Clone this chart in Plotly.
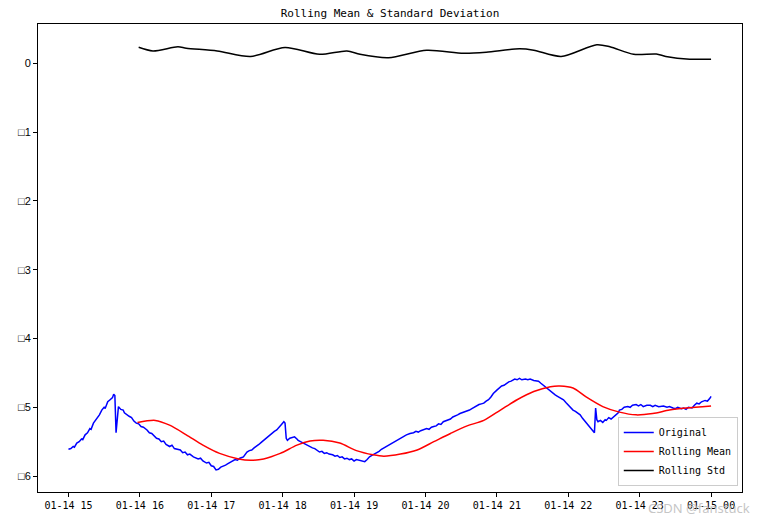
import pandas as pd
import plotly.graph_objects as go

START = "2019-01-14 15:00"

# Original series: minutes after 15:00, value
orig_min = [0, 2, 4, 5, 7, 9, 11, 12, 14, 16, 18, 19, 21, 23, 25, 26, 28, 30, 31, 33, 35, 37, 38, 39,
            40, 41, 42, 44, 46, 47, 49, 51, 53, 55, 57, 59, 61, 63, 66, 68, 70, 72, 74, 76, 78, 80,
            82, 85, 87, 89, 91, 94, 96, 98, 100, 102, 105, 107, 109, 111, 113, 116, 118, 120, 122,
            124, 126, 128, 130, 132, 134, 136, 138, 140, 142, 144, 147, 148, 150, 152, 154, 156,
            158, 160, 162, 164, 166, 169, 171, 173, 175, 178, 179, 181, 182, 183, 184, 186, 188,
            190, 192, 193, 195, 197, 199, 201, 203, 205, 207, 209, 211, 213, 215, 217, 219, 222,
            224, 226, 228, 230, 232, 234, 236, 238, 240, 242, 245, 247, 249, 251, 253, 255, 257,
            259, 261, 263, 265, 267, 269, 271, 273, 276, 278, 280, 282, 284, 287, 290, 292, 294,
            296, 298, 301, 303, 305, 307, 309, 311, 313, 315, 317, 319, 321, 323, 325, 327, 329,
            331, 333, 335, 337, 339, 341, 343, 345, 347, 349, 351, 353, 355, 357, 360, 362, 364,
            366, 368, 370, 372, 375, 377, 379, 381, 384, 386, 388, 391, 393, 395, 397, 399, 401,
            403, 405, 407, 409, 411, 413, 416, 418, 420, 422, 424, 426, 428, 430, 432, 434, 435,
            437, 439, 441, 442, 443, 444, 445, 447, 449, 451, 452, 454, 456, 458, 460, 462, 463,
            465, 467, 470, 472, 474, 477, 479, 481, 483, 486, 489, 491, 493, 496, 498, 500, 503,
            505, 508, 510, 512, 515, 517, 519, 521, 524, 526, 528, 530, 532, 535, 537, 539, 540]
orig_val = [-5.61, -5.60, -5.57, -5.58, -5.52, -5.50, -5.46, -5.47, -5.40, -5.37, -5.31, -5.32, -5.23,
            -5.18, -5.13, -5.11, -5.04, -5.00, -5.01, -4.92, -4.89, -4.86, -4.81, -4.83,
            -5.37, -5.10, -4.99, -5.03, -5.04, -5.08, -5.11, -5.13, -5.15, -5.20, -5.23, -5.24,
            -5.28, -5.29, -5.33, -5.37, -5.38, -5.42, -5.45, -5.46, -5.50, -5.49,
            -5.54, -5.57, -5.55, -5.60, -5.61, -5.62, -5.66, -5.65, -5.69, -5.68, -5.72, -5.73,
            -5.75, -5.74, -5.78, -5.81, -5.80, -5.85, -5.86,
            -5.91, -5.90, -5.87, -5.86, -5.84, -5.82, -5.80, -5.79, -5.76, -5.77, -5.74, -5.72,
            -5.70, -5.65, -5.63, -5.62, -5.59,
            -5.57, -5.54, -5.51, -5.48, -5.45, -5.40, -5.38, -5.35, -5.33, -5.28, -5.25, -5.21,
            -5.23, -5.45, -5.48, -5.45, -5.44,
            -5.43, -5.46, -5.48, -5.50, -5.52, -5.53, -5.56, -5.57, -5.59, -5.60, -5.63, -5.65,
            -5.64, -5.67, -5.66, -5.68, -5.69,
            -5.71, -5.70, -5.73, -5.72, -5.75, -5.74, -5.76, -5.75, -5.78, -5.76, -5.77, -5.78,
            -5.79, -5.76, -5.72, -5.70, -5.68,
            -5.67, -5.64, -5.61, -5.59, -5.57, -5.54, -5.52, -5.51, -5.48, -5.45, -5.44, -5.42,
            -5.40, -5.38, -5.37, -5.35, -5.36,
            -5.34, -5.33, -5.31, -5.32, -5.29, -5.28, -5.27, -5.24, -5.25, -5.21, -5.20, -5.18,
            -5.17, -5.14, -5.13, -5.11, -5.09,
            -5.08, -5.07, -5.05, -5.04, -5.02, -5.00, -4.97, -4.96, -4.95, -4.94, -4.91, -4.89,
            -4.85, -4.80, -4.75, -4.72, -4.69,
            -4.68, -4.65, -4.63, -4.62, -4.59, -4.60, -4.58, -4.60, -4.59, -4.60, -4.59, -4.61,
            -4.62, -4.62, -4.65, -4.68, -4.70,
            -4.73, -4.77, -4.80, -4.82, -4.84, -4.86, -4.89, -4.93, -4.97, -5.00, -5.04, -5.06,
            -5.08, -5.11, -5.16, -5.20, -5.23,
            -5.26, -5.30, -5.35, -5.37, -5.01, -5.18, -5.21, -5.19, -5.22, -5.18, -5.19, -5.15,
            -5.17, -5.14, -5.10, -5.08, -5.04,
            -5.03, -5.00, -4.99, -5.00, -4.97, -4.96, -4.98, -4.96, -4.99, -4.97, -4.97, -4.99,
            -4.97, -4.99, -4.98, -4.98, -5.00,
            -4.99, -5.01, -5.02, -5.00, -5.02, -5.01, -5.03, -5.00, -5.01, -4.97, -4.94, -4.95,
            -4.92, -4.90, -4.91, -4.87, -4.84]

# Rolling mean
mean_min = [58, 73, 85, 99, 113, 127, 143, 153, 164, 178, 192, 203, 214, 228, 242, 256, 265, 279,
            293, 307, 321, 335, 349, 363, 377, 391, 405, 413, 424, 435, 449, 463, 477, 491, 505,
            519, 540]
mean_val = [-5.22, -5.19, -5.26, -5.40, -5.55, -5.67, -5.75, -5.77, -5.75, -5.67, -5.55, -5.49,
            -5.48, -5.52, -5.63, -5.69, -5.71, -5.68, -5.62, -5.50, -5.38, -5.27, -5.19, -5.04,
            -4.89, -4.77, -4.70, -4.69, -4.72, -4.85, -4.99, -5.07, -5.11, -5.09, -5.04, -5.01,
            -4.98]

# Rolling std
std_min = [59, 71, 92, 99, 125, 153, 182, 211, 234, 245, 269, 301, 332, 351, 379, 391, 414, 444,
           455, 475, 494, 502, 522, 540]
std_val = [0.233, 0.18, 0.24, 0.22, 0.18, 0.10, 0.23, 0.13, 0.18, 0.13, 0.08, 0.19, 0.145, 0.16,
           0.21, 0.19, 0.10, 0.27, 0.24, 0.13, 0.135, 0.10, 0.06, 0.06]

y_ticks = [0, -1, -2, -3, -4, -5, -6]
y_ticktext = ["0", "\u25a11", "\u25a12", "\u25a13", "\u25a14", "\u25a15", "\u25a16"]
x_tick_hours = list(range(0, 10))


def to_time(mins):
    return pd.Timestamp(START) + pd.to_timedelta(mins, unit="m")


FONT = "DejaVu Sans Mono, Noto Sans Mono CJK SC, monospace"
YFONT = "Liberation Sans, Noto Sans CJK SC, sans-serif"

fig = go.Figure()
fig.add_trace(go.Scatter(x=to_time(orig_min), y=orig_val, mode="lines", name="Original",
                         line=dict(color="blue", width=1.5)))
fig.add_trace(go.Scatter(x=to_time(mean_min), y=mean_val, mode="lines", name="Rolling Mean",
                         line=dict(color="red", width=1.5, shape="spline", smoothing=0.8)))
fig.add_trace(go.Scatter(x=to_time(std_min), y=std_val, mode="lines", name="Rolling Std",
                         line=dict(color="black", width=1.5, shape="spline", smoothing=0.8)))

tickvals = [pd.Timestamp(START) + pd.Timedelta(hours=h) for h in x_tick_hours]

fig.update_layout(
    width=767, height=523,
    margin=dict(l=38, r=25, t=24, b=31),
    paper_bgcolor="white", plot_bgcolor="white",
    font=dict(family=FONT, size=10, color="black"),
    title=dict(text="Rolling Mean & Standard Deviation", x=390 / 767, xanchor="center",
               y=1 - 13 / 523, yanchor="middle", font=dict(family=FONT, size=11, color="black")),
    showlegend=True,
    legend=dict(x=0.994, y=0.013, xanchor="right", yanchor="bottom",
                bgcolor="rgba(255,255,255,0.85)", bordercolor="#cccccc", borderwidth=1,
                font=dict(family=FONT, size=10, color="black"),
                itemwidth=30, tracegroupgap=0),
)
fig.update_xaxes(
    range=[to_time(-25.6), to_time(566)],
    tickvals=tickvals, tickformat="%m-%d %H",
    showline=True, linecolor="black", linewidth=1, mirror=True,
    ticks="outside", ticklen=4, tickcolor="black", showgrid=False, zeroline=False,
    tickfont=dict(family=FONT, size=10, color="black"),
)
fig.update_yaxes(
    range=[-6.231, 0.571],
    tickvals=y_ticks, ticktext=y_ticktext,
    showline=True, linecolor="black", linewidth=1, mirror=True,
    ticks="outside", ticklen=4, tickcolor="black", showgrid=False, zeroline=False,
    tickfont=dict(family=YFONT, size=11, color="black"),
)
fig.add_annotation(text="CSDN @fanstuck", xref="paper", yref="paper",
                   x=(752 - 38) / 704, y=-(508 - 492) / 468, xanchor="right", yanchor="middle",
                   showarrow=False, font=dict(family="Noto Sans, sans-serif", size=13,
                                              color="rgba(190,190,190,0.9)"))

fig.write_html("out.html")
